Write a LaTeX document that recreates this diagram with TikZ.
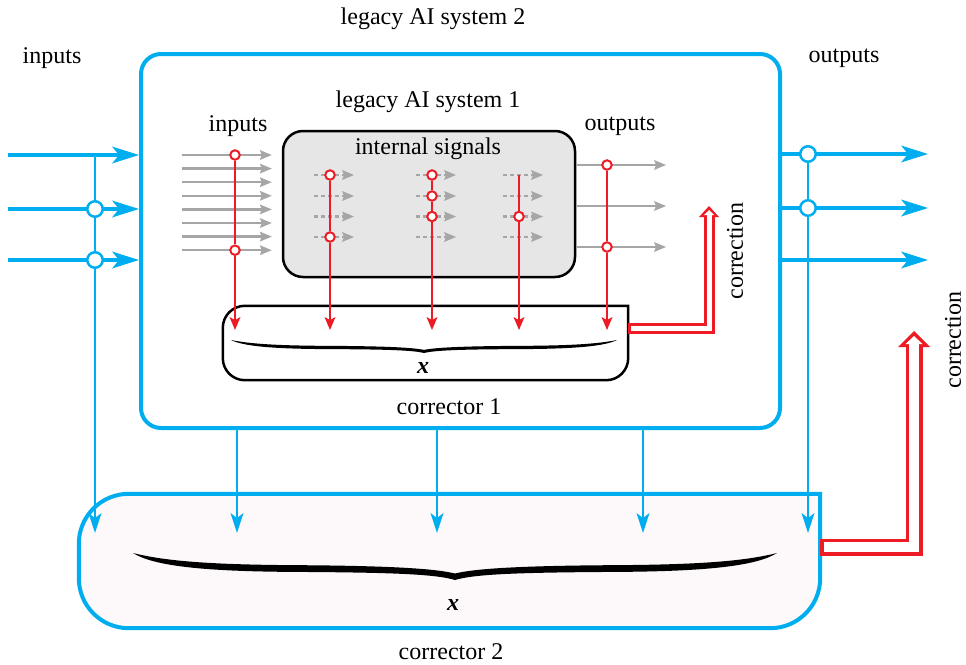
\documentclass[tikz,border=0pt]{standalone}
\usepackage{fontspec}
\setmainfont{Liberation Serif}
\usepackage{tikz}
\usetikzlibrary{arrows.meta,positioning}
\definecolor{aiblue}{RGB}{0,174,239}
\definecolor{aired}{RGB}{237,28,36}
\definecolor{aigray}{RGB}{166,166,166}
\definecolor{boxgray}{RGB}{230,230,230}
\definecolor{boxpink}{RGB}{253,248,250}
\tikzstyle{txt} = [font=\fontsize{24}{28}\selectfont, inner sep=0pt]
\tikzstyle{system} = [rectangle, draw=aiblue, line width=4pt, rounded corners=20pt]
\tikzstyle{internal} = [rectangle, draw=black, fill=boxgray, line width=2.5pt, rounded corners=20pt]
\tikzstyle{corrline} = [draw=black, fill=white, line width=2.5pt, line cap=rect, rounded corners=22pt]
\tikzstyle{corrlinetwo} = [draw=aiblue, fill=boxpink, line width=4pt, line cap=rect, rounded corners=50pt]
\tikzstyle{mainsig} = [draw=aiblue, line width=4pt,
    -{Stealth[length=27pt, width=17pt, inset=7pt, line width=0pt]}]
\tikzstyle{copysig} = [draw=aiblue, line width=2.5pt,
    -{Stealth[length=20pt, width=13pt, inset=5pt, line width=0pt]}]
\tikzstyle{graysig} = [draw=aigray, line width=2.5pt,
    -{Stealth[length=12pt, width=10pt, inset=2pt, line width=0pt]}]
\tikzstyle{dashsig} = [graysig, dash pattern=on 4pt off 3pt]
\tikzstyle{probe} = [draw=aired, line width=2.5pt,
    -{Stealth[length=13pt, width=11pt, inset=3pt, line width=0pt]}]
\tikzstyle{redtap} = [circle, draw=aired, fill=white, line width=2pt, minimum size=9.5pt, inner sep=0pt]
\tikzstyle{bluetap} = [circle, draw=aiblue, fill=white, line width=2.5pt, minimum size=15.5pt, inner sep=0pt]
\tikzstyle{fixone} = [draw=aired, line width=11pt,
    -{Triangle[length=11pt, width=20pt, line width=0pt]}]
\tikzstyle{fixonegap} = [draw=white, line width=5pt, shorten <=3pt, shorten >=4pt,
    -{Triangle[length=5pt, width=10pt, line width=0pt]}]
\tikzstyle{fixtwo} = [draw=aired, line width=17pt,
    -{Triangle[length=16pt, width=32pt, line width=0pt]}]
\tikzstyle{fixtwogap} = [draw=white, line width=10pt, shorten <=3.5pt, shorten >=5pt,
    -{Triangle[length=8pt, width=17pt, line width=0pt]}]
\newcommand{\calbrace}[4]{%
	\fill [shift={(#1,#3)}, xscale=#2, yscale=#4] (0,0)
		.. controls (0.03,0.45) and (0.1,0.68) .. (0.25,0.70)
		.. controls (0.4,0.72) and (0.47,0.78) .. (0.5,1)
		.. controls (0.53,0.78) and (0.6,0.72) .. (0.75,0.70)
		.. controls (0.9,0.68) and (0.97,0.45) .. (1,0)
		.. controls (0.95,0.3) and (0.88,0.43) .. (0.75,0.45)
		.. controls (0.6,0.47) and (0.53,0.58) .. (0.5,0.76)
		.. controls (0.47,0.58) and (0.4,0.47) .. (0.25,0.45)
		.. controls (0.12,0.43) and (0.05,0.3) .. (0,0) -- cycle;}

\begin{document}
\begin{tikzpicture}[x=1pt, y=-1pt]
		\useasboundingbox (0,0) rectangle (966,664);
		
		\node [system, minimum width=639pt, minimum height=374pt] (systwo) at (460.5,241) {};
		\node [inner sep=0pt, minimum width=741pt, minimum height=134pt] (corrtwo) at (449.5,561) {};
		\draw [corrlinetwo] (corrtwo.north east) -- (corrtwo.north west) -- (corrtwo.south west)
			-- (corrtwo.south east) -- (corrtwo.north east);
		\node [internal, minimum width=292pt, minimum height=146pt] (sysone) at (429,204) {};
		\node [inner sep=0pt, minimum width=405pt, minimum height=74pt] (corrone) at (425.5,343) {};
		\draw [corrline] (corrone.north east) -- (corrone.north west) -- (corrone.south west)
			-- (corrone.south east) -- (corrone.north east);
		\calbrace{231}{386}{340}{13}
		\calbrace{133}{644}{553}{27}
		
		\foreach \i in {0,...,7} {
			\coordinate (in\i) at (182,{155+13.6*\i});
			\draw [graysig] (in\i) -- ([xshift=-10pt]sysone.west |- in\i);
		}
		\foreach \c/\x in {a/314,b/416,c/503}
			\foreach \y [count=\r] in {175,196,216.5,237} {
				\coordinate (s\c\r) at (\x,\y);
				\draw [dashsig] (s\c\r) -- ++(40,0);
			}
		\coordinate (outa) at (666,165);
		\coordinate (outb) at (666,206);
		\coordinate (outc) at (666,247);
		\draw [graysig] (outa -| sysone.east) -- (outa);
		\draw [graysig] (outb -| sysone.east) -- (outb);
		\draw [graysig] (outc -| sysone.east) -- (outc);
		
		\coordinate (tipline) at (0,330);
		\node [redtap] (pi1) at (235,155) {};
		\node [redtap] (pi2) at (235,250.2) {};
		\node [redtap] (pa1) at ([xshift=16pt]sa1) {};
		\node [redtap] (pa4) at ([xshift=16pt]sa4) {};
		\node [redtap] (pb1) at ([xshift=16pt]sb1) {};
		\node [redtap] (pb2) at ([xshift=16pt]sb2) {};
		\node [redtap] (pb3) at ([xshift=16pt]sb3) {};
		\node [redtap] (pc3) at ([xshift=16pt]sc3) {};
		\node [redtap] (po1) at (607,165) {};
		\node [redtap] (po3) at (607,247) {};
		\draw [probe] (pi1) -- (pi2) -- (pi2 |- tipline);
		\draw [probe] (pa1) -- (pa4) -- (pa4 |- tipline);
		\draw [probe] (pb1) -- (pb2) -- (pb3) -- (pb3 |- tipline);
		\draw [probe] ([xshift=16pt]sc1) -- (pc3) -- (pc3 |- tipline);
		\draw [probe] (po1) -- (po3) -- (po3 |- tipline);
		
		\coordinate (xa) at (8,155);
		\coordinate (xb) at (8,209);
		\coordinate (xc) at (8,260);
		\coordinate (ya) at (928,154);
		\coordinate (yb) at (928,208);
		\coordinate (yc) at (928,260);
		\draw [mainsig] (xa) -- (xa -| systwo.west);
		\draw [mainsig] (xb) -- (xb -| systwo.west);
		\draw [mainsig] (xc) -- (xc -| systwo.west);
		\draw [mainsig] (ya -| systwo.east) -- (ya);
		\draw [mainsig] (yb -| systwo.east) -- (yb);
		\draw [mainsig] (yc -| systwo.east) -- (yc);
		
		\coordinate (bottomline) at (0,533);
		\coordinate (ja) at (95,155);
		\node [bluetap] (ta2) at (95,209) {};
		\node [bluetap] (ta3) at (95,260) {};
		\node [bluetap] (tb1) at (808,154) {};
		\node [bluetap] (tb2) at (808,208) {};
		\draw [copysig] (ja) -- (ta2) -- (ta3) -- (ta3 |- bottomline);
		\draw [copysig] (tb1) -- (tb2) -- (tb2 |- bottomline);
		\coordinate (da) at (237,533);
		\coordinate (db) at (437,533);
		\coordinate (dc) at (643,533);
		\draw [copysig] (da |- systwo.south) -- (da);
		\draw [copysig] (db |- systwo.south) -- (db);
		\draw [copysig] (dc |- systwo.south) -- (dc);
		
		\coordinate (fixa) at (709,206);
		\coordinate (fixb) at (914,331);
		\draw [fixone] ([yshift=15pt]corrone.east) -| (fixa);
		\draw [fixonegap] ([yshift=15pt]corrone.east) -| (fixa);
		\draw [fixtwo] ([yshift=14pt]corrtwo.east) -| (fixb);
		\draw [fixtwogap] ([yshift=14pt]corrtwo.east) -| (fixb);
		
		\node [txt] (systwolabel) at (433,19) {legacy AI system 2};
		\node [txt] (inlabel) at (52,58) {inputs};
		\node [txt] (outlabel) at (844,58) {outputs};
		\node [txt] (sysonelabel) at (428,102) {legacy AI system 1};
		\node [txt] (inonelabel) at (238,126) {inputs};
		\node [txt] (outonelabel) at (620,126) {outputs};
		\node [txt] (intlabel) at (428,149) {internal signals};
		\node [txt] (xone) at (423,368) {\textbf{\textit{x}}};
		\node [txt] (xtwo) at (453,605) {\textbf{\textit{x}}};
		\node [txt] (corronelabel) at (449,407) {corrector 1};
		\node [txt] (corrtwolabel) at (451,652) {corrector 2};
		\node [txt, rotate=90] (fixalabel) at (735,251) {correction};
		\node [txt, rotate=90] (fixblabel) at (953,340) {correction};
		
		\end{tikzpicture}
\end{document}
